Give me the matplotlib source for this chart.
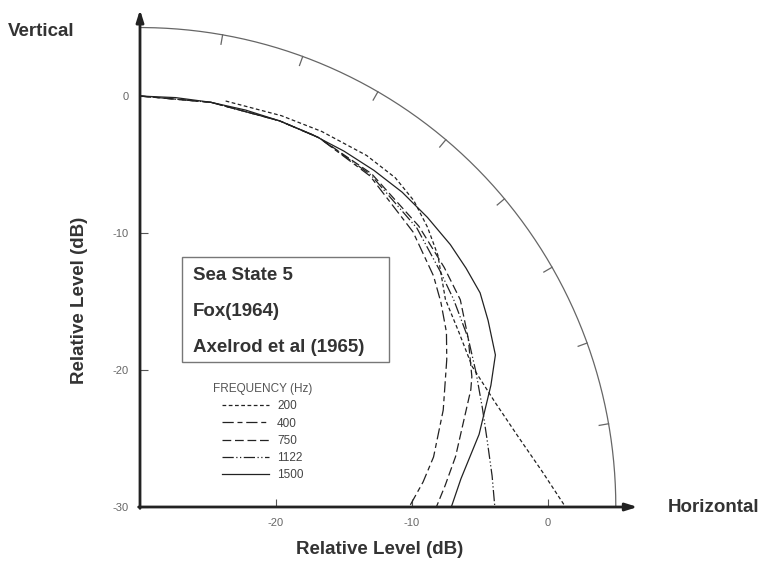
import numpy as np
import matplotlib.pyplot as plt

plt.rcParams['font.family'] = ['Liberation Sans', 'DejaVu Sans']

# polar pattern drawn on a dB grid, the pole sits at (-30, -30)
POLE = -30

freqs = ['200', '400', '750', '1122', '1500']

# angle above horizontal (deg) and relative level (dB) for each frequency
ang_200 = [78, 70, 64, 57, 52, 48, 44, 40, 34, 28.5, 22.8, 16.4, 10.4, 5, 0]
lvl_200 = [0.3, 0.4, 0.5, 0.6, 0.5, 0.1, -0.6, -1.4, -2.9, -3.3, -3.5, -2.8, -1.7, -0.3, 1.3]

ang_400 = [90, 80, 70, 64, 55, 45, 38, 34, 29.5, 25.5, 17.6, 9.6, 5, 0]
lvl_400 = [0, 0, 0, 0, -0.5, -1.6, -2.6, -3.3, -4.1, -5.0, -6.6, -8.1, -9.1, -10.2]

ang_750 = [90, 80, 70, 64, 55, 45, 38, 32.7, 27, 21.3, 19.4, 9, 4, 0]
lvl_750 = [0, 0, 0, 0, -0.3, -1.0, -1.6, -2.0, -2.9, -3.8, -4.2, -6.5, -7.5, -8.2]

ang_1122 = [90, 80, 70, 64, 55, 45, 38, 33.3, 27, 21.7, 16, 10.9, 5, 0]
lvl_1122 = [0, 0, 0, 0, -0.4, -1.2, -2.0, -2.4, -2.9, -3.4, -3.8, -4.0, -4.0, -3.9]

ang_1500 = [90, 85, 80, 75, 70, 65, 60, 55, 50, 45, 40, 36, 32, 28, 23, 19, 12, 5, 0]
lvl_1500 = [0, 0, 0, 0, 0, 0, 0, 0, 0, -0.1, -0.2, -0.35, -0.5, -1.0, -1.6, -2.7, -4.5, -6.3, -7.1]

angles = [ang_200, ang_400, ang_750, ang_1122, ang_1500]
levels = [lvl_200, lvl_400, lvl_750, lvl_1122, lvl_1500]
styles = [(0, (3, 2)), (0, (9, 3, 4, 3)), (0, (7, 3)), (0, (9, 2, 1, 2, 1, 2)), '-']

ring_level = 5
ring_ticks = [10, 20, 30, 40, 50, 60, 70, 80]

xticks = [-20, -10, 0]
yticks = [0, -10, -20, -30]

box_lines = ['Sea State 5', 'Fox(1964)', 'Axelrod et al (1965)']


def to_xy(ang, lvl):
    r = np.asarray(lvl, dtype=float) - POLE
    t = np.radians(ang)
    return POLE + r * np.cos(t), POLE + r * np.sin(t)


fig = plt.figure(figsize=(7.65, 5.64), dpi=100)
ax = fig.add_axes([140 / 765, 57 / 564, 503 / 765, 500 / 564])
ax.set_xlim(-30, 7)
ax.set_ylim(-30, 6.5)
for s in ax.spines.values():
    s.set_visible(False)

# outer reference ring with its angle ticks
th = np.linspace(0, 90, 200)
rx, ry = to_xy(th, np.full_like(th, ring_level))
ax.plot(rx, ry, color='#666666', lw=0.9)
for a in ring_ticks:
    tx, ty = to_xy([a, a], [ring_level, ring_level - 0.7])
    ax.plot(tx, ty, color='#666666', lw=0.9)

# the beam patterns
for f, a, l, ls in zip(freqs, angles, levels, styles):
    x, y = to_xy(a, l)
    ax.plot(x, y, color='#222222', lw=0.9, ls=ls, label=f)

# axes with arrow heads
arrow = dict(arrowstyle='-|>,head_length=0.7,head_width=0.22', lw=2,
             color='#222222', shrinkA=0, shrinkB=0)
ax.annotate('', xy=(6.6, -30), xytext=(-30.1, -30), arrowprops=arrow,
            annotation_clip=False)
ax.annotate('', xy=(-30, 6.3), xytext=(-30, -30.1), arrowprops=arrow,
            annotation_clip=False)

ax.set_xticks(xticks)
ax.set_xticklabels([str(v) for v in xticks])
ax.set_yticks(yticks)
ax.set_yticklabels([str(v) for v in yticks])
ax.tick_params(direction='in', length=6, width=0.8, color='#555555',
               labelsize=8, labelcolor='#666666', pad=8)

fig.text(8 / 765, 1 - 32 / 564, 'Vertical', fontsize=13.5, fontweight='bold',
         color='#333333', va='center')
fig.text(668 / 765, 1 - 508 / 564, 'Horizontal', fontsize=13.5,
         fontweight='bold', color='#333333', va='center')
fig.text(380 / 765, 1 - 550 / 564, 'Relative Level (dB)', fontsize=13.5,
         fontweight='bold', color='#333333', ha='center', va='center')
fig.text(80 / 765, 1 - 300 / 564, 'Relative Level (dB)', fontsize=13.5,
         fontweight='bold', color='#333333', ha='center', va='center',
         rotation=90)

# source box
box = plt.Rectangle((182 / 765, 1 - 362 / 564), 207 / 765, 105 / 564,
                    transform=fig.transFigure, fill=False,
                    edgecolor='#777777', lw=1)
fig.add_artist(box)
for i, t in enumerate(box_lines):
    fig.text(193 / 765, 1 - (276 + 36 * i) / 564, t, fontsize=13.5,
             fontweight='bold', color='#333333', va='center')

leg = ax.legend(loc='upper left', bbox_to_anchor=(207 / 765, 1 - 377 / 564),
                bbox_transform=fig.transFigure, frameon=False, fontsize=8.5,
                title='FREQUENCY (Hz)', title_fontsize=8.5, handlelength=4.0,
                handletextpad=0.7, labelspacing=0.45, borderpad=0)
leg.get_title().set_color('#555555')
for t in leg.get_texts():
    t.set_color('#444444')

fig.savefig('out.png', dpi=100)
